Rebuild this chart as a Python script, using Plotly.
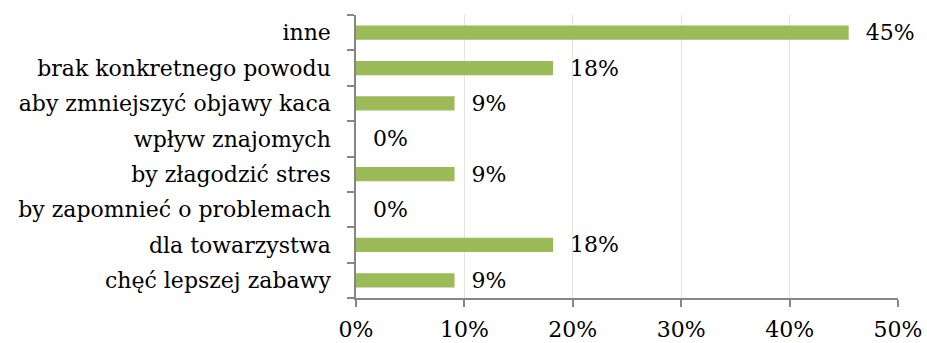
import plotly.graph_objects as go

# Reasons, listed bottom-to-top as drawn on the category axis
categories = [
    "chęć lepszej zabawy",
    "dla towarzystwa",
    "by zapomnieć o problemach",
    "by złagodzić stres",
    "wpływ znajomych",
    "aby zmniejszyć objawy kaca",
    "brak konkretnego powodu",
    "inne",
]
shares = [9.09, 18.18, 0.0, 9.09, 0.0, 9.09, 18.18, 45.45]
x_ticks = [0, 10, 20, 30, 40, 50]
x_tick_labels = ["0%", "10%", "20%", "30%", "40%", "50%"]

FONT = "DejaVu Serif"
AXIS_GRAY = "#868686"

fig = go.Figure(
    go.Bar(
        x=shares,
        y=categories,
        orientation="h",
        marker=dict(color="#9BBB59", line=dict(width=0)),
        text=[f"  {v:.0f}%" for v in shares],
        textposition="outside",
        constraintext="none",
        textfont=dict(family=FONT, size=22, color="#000000"),
        cliponaxis=False,
        width=0.4,
    )
)

fig.update_layout(
    width=927,
    height=343,
    margin=dict(l=356, r=29, t=15, b=45),
    paper_bgcolor="white",
    plot_bgcolor="white",
    showlegend=False,
    font=dict(family=FONT, size=22, color="#000000"),
)

fig.update_xaxes(
    range=[0, 50],
    tickvals=x_ticks,
    ticktext=x_tick_labels,
    showgrid=True,
    gridcolor="#e3e3e3",
    gridwidth=1,
    showline=True,
    linecolor=AXIS_GRAY,
    linewidth=1.5,
    ticks="outside",
    ticklen=7,
    tickcolor=AXIS_GRAY,
    tickwidth=1.5,
    zeroline=False,
    automargin=False,
    ticklabelstandoff=4,
    tickfont=dict(family=FONT, size=22),
)

fig.update_yaxes(
    showline=True,
    linecolor=AXIS_GRAY,
    linewidth=1.5,
    ticks="outside",
    tickson="boundaries",
    ticklen=7,
    tickcolor=AXIS_GRAY,
    tickwidth=1.5,
    showgrid=False,
    automargin=False,
    tickfont=dict(family=FONT, size=22),
    ticklabelstandoff=19,
)

fig.write_html("out.html")
